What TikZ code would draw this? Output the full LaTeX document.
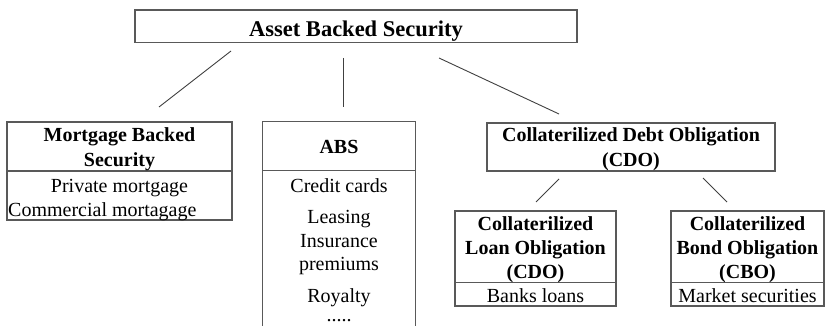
\documentclass[tikz,border=0pt]{standalone}
\usepackage{fontspec}
\setmainfont{Liberation Serif}
\usetikzlibrary{calc}
\begin{document}
\begin{tikzpicture}[x=1pt,y=-1pt,
  box/.style={draw=black!65, line width=1.1pt, inner sep=0pt, rectangle},
  frame/.style={draw=black!65, line width=1.1pt},
  link/.style={draw=black!75, line width=0.9pt},
  hd/.style={font=\fontsize{20}{24}\selectfont\bfseries, anchor=base, inner sep=0pt},
  bd/.style={font=\fontsize{20}{24}\selectfont, anchor=base, inner sep=0pt}]
\useasboundingbox (0,0) rectangle (827,326);

% boxes
\node[box, minimum width=442pt, minimum height=32.5pt] (top) at (356,26.25) {};
\node[box, minimum width=225pt, minimum height=98pt] (mbs) at (119.5,171) {};
\node[inner sep=0pt, minimum width=152pt, minimum height=208pt] (abs) at (339,226) {};
\node[box, minimum width=288pt, minimum height=48pt] (cdo) at (631,147) {};
\node[box, minimum width=161pt, minimum height=95pt] (clo) at (535.5,258.5) {};
\node[box, minimum width=153pt, minimum height=95pt] (cbo) at (747.5,258.5) {};

% ABS box open at the bottom (cut by the picture edge)
\draw[frame] (abs.south west) -- (abs.north west) -- (abs.north east) -- (abs.south east);
\draw[frame] ($(abs.north west)+(0,49)$) -- ($(abs.north east)+(0,49)$);
% dividers
\draw[frame] (mbs.west) -- (mbs.east);
\draw[frame] ($(clo.south west)+(0,-24)$) -- ($(clo.south east)+(0,-24)$);
\draw[frame] ($(cbo.south west)+(0,-24)$) -- ($(cbo.south east)+(0,-24)$);

% texts
\node[anchor=base, inner sep=0pt, font=\fontsize{22.5}{27}\selectfont\bfseries] (toptxt) at (356,37) {Asset Backed Security};

\node[hd] (mbs1) at (119.5,142) {Mortgage Backed};
\node[hd] (mbs2) at (119.5,166) {Security};
\node[bd] (mbs3) at (119.5,192) {Private mortgage};
\node[bd, anchor=base west] (mbs4) at (8,216) {Commercial mortagage};

\node[hd] (abs1) at (339,153.5) {ABS};
\node[bd] (abs2) at (339,192) {Credit cards};
\node[bd] (abs3) at (339,223) {Leasing};
\node[bd] (abs4) at (339,247) {Insurance};
\node[bd] (abs5) at (339,270) {premiums};
\node[bd] (abs6) at (339,302) {Royalty};
\node[bd] (abs7) at (339,321) {.....};

\node[hd] (cdo1) at (631,142) {Collaterilized Debt Obligation};
\node[hd] (cdo2) at (631,166) {(CDO)};

\node[hd] (clo1) at (535.5,230) {Collaterilized};
\node[hd] (clo2) at (535.5,254) {Loan Obligation};
\node[hd] (clo3) at (535.5,278) {(CDO)};
\node[bd] (clo4) at (535.5,302) {Banks loans};

\node[hd] (cbo1) at (747.5,230) {Collaterilized};
\node[hd] (cbo2) at (747.5,254) {Bond Obligation};
\node[hd] (cbo3) at (747.5,278) {(CBO)};
\node[bd] (cbo4) at (747.5,302) {Market securities};

% connector end points (lines float between the boxes)
\coordinate (a1) at (231,51);   \coordinate (a2) at (159,107);
\coordinate (b1) at (343,58);   \coordinate (b2) at (343,107);
\coordinate (c1) at (439,58);   \coordinate (c2) at (559,114);
\coordinate (d1) at (559,179);  \coordinate (d2) at (536,202);
\coordinate (e1) at (703,178);  \coordinate (e2) at (727,202);
\draw[link] (a1) -- (a2);
\draw[link] (b1) -- (b2);
\draw[link] (c1) -- (c2);
\draw[link] (d1) -- (d2);
\draw[link] (e1) -- (e2);
\end{tikzpicture}
\end{document}
